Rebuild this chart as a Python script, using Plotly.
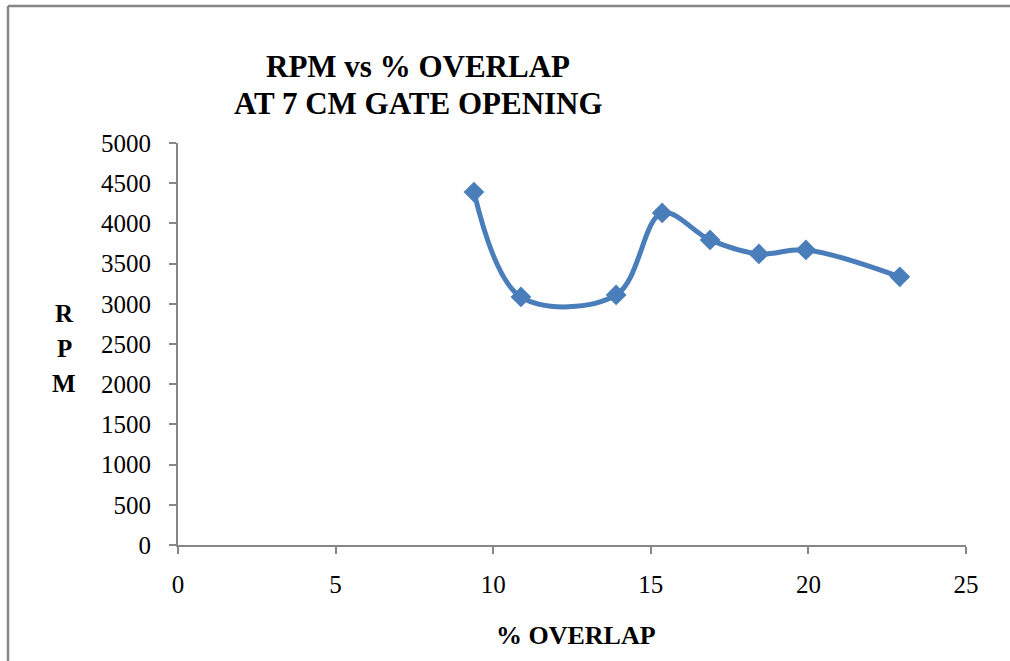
import plotly.graph_objects as go

overlap = [9.39, 10.88, 13.9, 15.36, 16.88, 18.43, 19.92, 22.9]
rpm = [4390, 3085, 3110, 4130, 3795, 3620, 3670, 3335]
x_ticks = [0, 5, 10, 15, 20, 25]
y_ticks = [0, 500, 1000, 1500, 2000, 2500, 3000, 3500, 4000, 4500, 5000]

W, H = 1010, 661
L, R, T, B = 178, 44, 143, 116
pw, ph = W - L - R, H - T - B

def px(x):
    return (x - L) / pw

def py(y):
    return (H - B - y) / ph

fig = go.Figure()
fig.add_trace(go.Scatter(
    x=overlap, y=rpm, mode="lines+markers",
    line=dict(color="#4a7ebb", width=5, shape="spline", smoothing=1),
    marker=dict(symbol="diamond", size=16, color="#4a7ebb"),
    showlegend=False,
))

font = "Liberation Serif, Times New Roman, serif"
axis_common = dict(showgrid=False, zeroline=False, showline=True, linecolor="#868686",
                   linewidth=2, ticks="outside", ticklen=7, tickwidth=2, tickcolor="#868686",
                   tickfont=dict(family=font, size=25, color="black"))
fig.update_xaxes(range=[0, 25], tickvals=x_ticks, ticklabelstandoff=9, **axis_common)
fig.update_yaxes(range=[0, 5000], tickvals=y_ticks, ticklabelstandoff=13, **axis_common)

def label(text, x, y, size):
    return dict(text=text, xref="paper", yref="paper", x=px(x), y=py(y),
                xanchor="center", yanchor="middle", showarrow=False,
                font=dict(size=size, family=font, color="black"))

border = dict(color="#868686", width=2.5)
fig.update_layout(
    width=W, height=H,
    margin=dict(l=L, r=R, t=T, b=B),
    plot_bgcolor="white", paper_bgcolor="white",
    font=dict(family=font, color="black"),
    annotations=[
        label("<b>RPM vs % OVERLAP</b>", 418, 67, 31),
        label("<b>AT 7 CM GATE OPENING</b>", 418, 103, 31),
        label("<b>R</b>", 64, 313, 25),
        label("<b>P</b>", 64, 348, 25),
        label("<b>M</b>", 64, 383, 25),
        label("<b>% OVERLAP</b>", 576, 635, 26),
    ],
    shapes=[
        dict(type="line", xref="paper", yref="paper", x0=px(8), x1=px(1010), y0=py(6), y1=py(6),
             line=border, layer="below"),
        dict(type="line", xref="paper", yref="paper", x0=px(8), x1=px(8), y0=py(6), y1=py(661),
             line=border, layer="below"),
    ],
)

fig.write_html("out.html", config={"displayModeBar": False},
               post_script="document.body.style.margin='0';")
